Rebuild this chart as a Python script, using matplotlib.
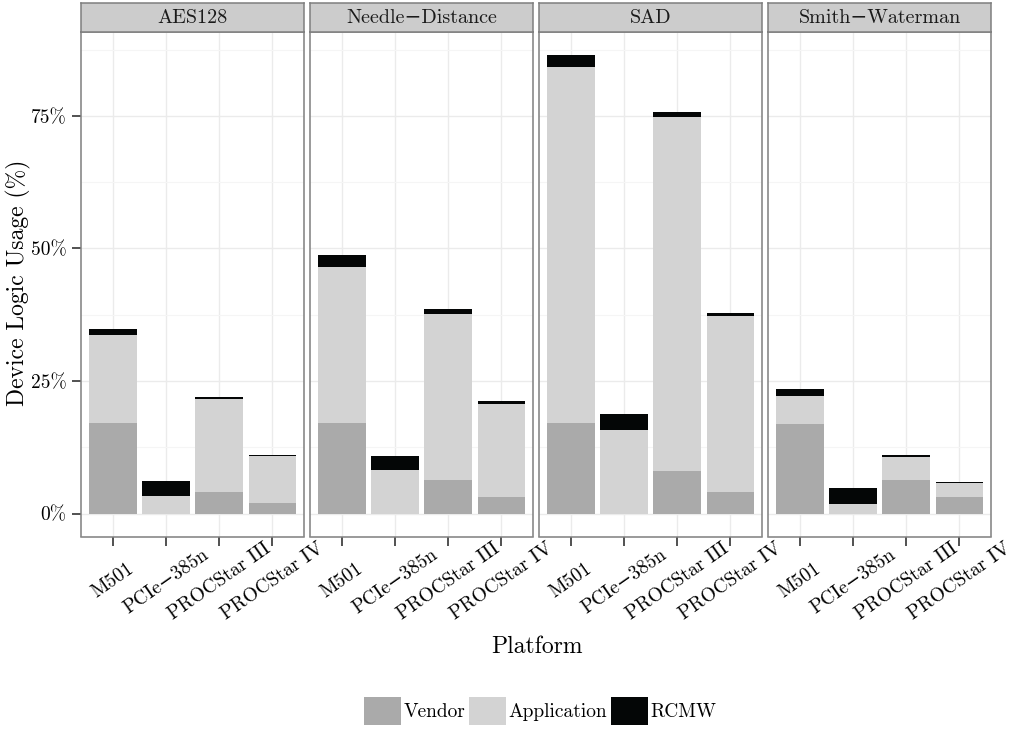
import matplotlib
matplotlib.use('Agg')
import matplotlib.pyplot as plt
from matplotlib.patches import Patch
from matplotlib.ticker import FixedLocator
import numpy as np

plt.rcParams['font.family'] = ['cmr10', 'DejaVu Serif']
plt.rcParams['axes.formatter.use_mathtext'] = True

# ---------------- data (percent of device logic) ----------------
benchmarks = ['AES128', 'Needle\u2212Distance', 'SAD', 'Smith\u2212Waterman']
platforms = ['M501', 'PCIe\u2212385n', 'PROCStar III', 'PROCStar IV']
series_names = ['Vendor', 'Application', 'RCMW']
series_colors = ['#AAAAAA', '#D3D3D3', '#040606']

vendor = [
    [17.0, 0.0, 4.0, 2.0],
    [17.0, 0.0, 6.3, 3.1],
    [17.0, 0.0, 8.1, 4.0],
    [16.8, 0.0, 6.3, 3.1],
]
application = [
    [16.7, 3.3, 17.7, 8.8],
    [29.5, 8.3, 31.4, 17.6],
    [67.3, 15.7, 66.6, 33.3],
    [5.4, 1.75, 4.3, 2.6],
]
rcmw = [
    [1.1, 2.8, 0.35, 0.2],
    [2.2, 2.6, 0.95, 0.6],
    [2.2, 3.0, 0.95, 0.55],
    [1.2, 3.0, 0.4, 0.2],
]
y_ticks = [0, 25, 50, 75]
y_tick_labels = ['0%', '25%', '50%', '75%']
x_title = 'Platform'
y_title = 'Device Logic Usage (%)'

# ---------------- layout ----------------
W, H = 1017, 730
fig = plt.figure(figsize=(W / 100, H / 100), dpi=100)

def fx(px):
    return px / W

def fy(py):
    return 1 - py / H

panel_left0 = 81.3
panel_step = 229.0
panel_w = 223.0
panel_top = 32.0
panel_bot = 536.5
strip_top = 3.0

totals = np.array(vendor) + np.array(application) + np.array(rcmw)
ymax = totals.max()
ylim = (-0.05 * ymax, 1.05 * ymax)

border_col = '#7F7F7F'
x = np.arange(len(platforms))

for i, bench in enumerate(benchmarks):
    left = panel_left0 + i * panel_step
    ax = fig.add_axes([fx(left), fy(panel_bot), panel_w / W, (panel_bot - panel_top) / H])
    v = np.array(vendor[i])
    a = np.array(application[i])
    r = np.array(rcmw[i])
    ax.bar(x, v, 0.9, color=series_colors[0], zorder=2)
    ax.bar(x, a, 0.9, bottom=v, color=series_colors[1], zorder=2)
    ax.bar(x, r, 0.9, bottom=v + a, color=series_colors[2], zorder=2)

    ax.set_xlim(-0.6, len(platforms) - 1 + 0.6)
    ax.set_ylim(*ylim)
    ax.yaxis.set_major_locator(FixedLocator(y_ticks))
    ax.yaxis.set_minor_locator(FixedLocator([12.5, 37.5, 62.5, 87.5]))
    ax.set_yticklabels(y_tick_labels)
    ax.set_xticks(x)
    ax.set_xticklabels(platforms, rotation=35, ha='center', va='center',
                       rotation_mode='anchor', fontsize=14)
    ax.set_axisbelow(True)
    ax.grid(which='major', color='#EBEBEB', lw=1.0, zorder=0)
    ax.grid(which='minor', axis='y', color='#F5F5F5', lw=0.8, zorder=0)
    ax.tick_params(which='minor', length=0)
    ax.tick_params(axis='x', length=6.5, width=1.1, color='#222222', pad=25.5)
    ax.tick_params(axis='y', length=6.5, width=1.1, color='#222222', pad=4.3,
                   labelsize=14)
    if i > 0:
        ax.tick_params(axis='y', left=False, labelleft=False)
    for s in ax.spines.values():
        s.set_color(border_col)
        s.set_linewidth(1.1)

    # facet strip
    sax = fig.add_axes([fx(left), fy(panel_top), panel_w / W, (panel_top - strip_top) / H])
    sax.set_facecolor('#CCCCCC')
    sax.set_xticks([])
    sax.set_yticks([])
    for s in sax.spines.values():
        s.set_color(border_col)
        s.set_linewidth(1.1)
    sax.text(0.5, 0.47, bench, ha='center', va='center', fontsize=14.5,
             transform=sax.transAxes, color='#1A1A1A')

fig.text(fx(537), fy(647), x_title, ha='center', va='center', fontsize=17)
fig.text(fx(18), fy(283), y_title, ha='center', va='center', rotation=90, fontsize=17)

handles = [Patch(facecolor=c, edgecolor='none') for c in series_colors]
fig.legend(handles, series_names, loc='center', bbox_to_anchor=(fx(540), fy(711)),
           ncol=3, frameon=False, fontsize=14, handlelength=1.9, handleheight=1.9,
           handletextpad=0.12, columnspacing=0.2, borderpad=0.0)

fig.savefig('out.png', dpi=100)
